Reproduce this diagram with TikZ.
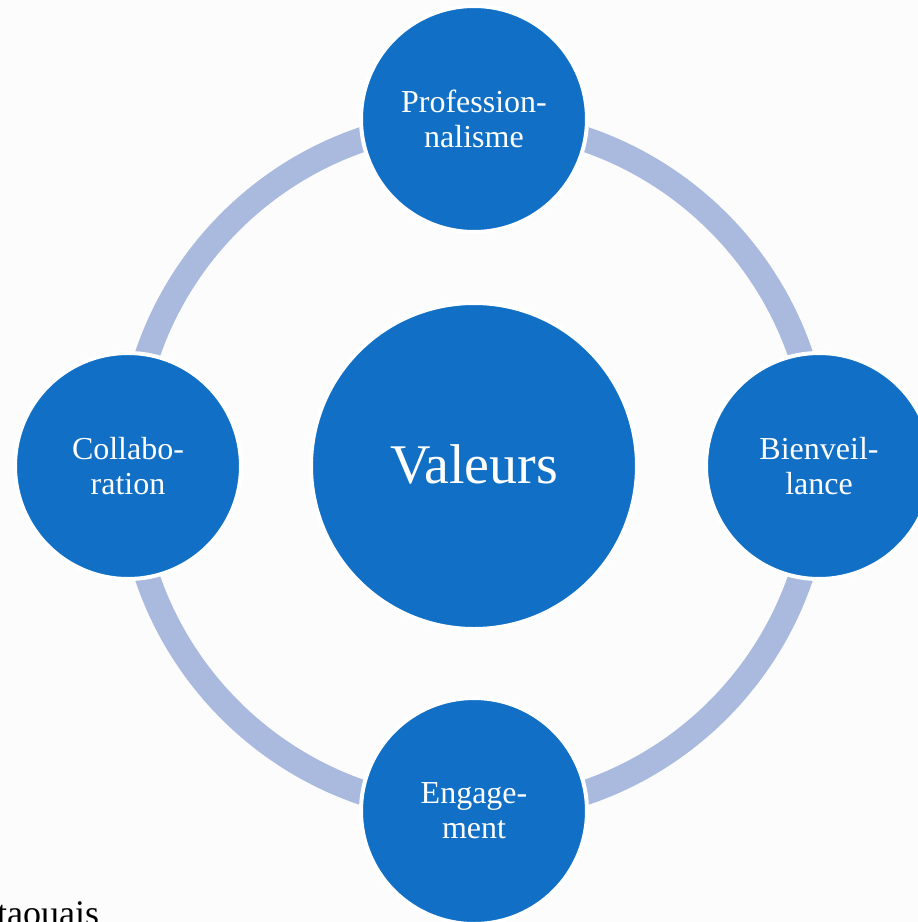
\documentclass[tikz,border=0pt]{standalone}
\usepackage{fontspec}
\setmainfont{Liberation Serif}
\definecolor{nodeblue}{HTML}{1170C6}
\definecolor{ringblue}{HTML}{AABADF}
\definecolor{bgcol}{HTML}{FCFCFC}
\begin{document}
\begin{tikzpicture}[x=1pt,y=-1pt,
  small/.style={circle,fill=nodeblue,draw=white,line width=4pt,minimum size=226pt,inner sep=0pt,
    text=white,align=center,font=\fontsize{32}{35}\selectfont},
  big/.style={circle,fill=nodeblue,draw=white,line width=4pt,minimum size=326pt,inner sep=0pt,
    text=white,font=\fontsize{56}{60}\selectfont},
  ring/.style={draw=ringblue,line width=25pt}]
\useasboundingbox (0,0) rectangle (918,922);
\clip (0,0) rectangle (918,922);
\fill[bgcol] (0,0) rectangle (918,922);
\coordinate (c) at (474,466);
\draw[ring] (c) circle[radius=345];
\node[big] (v) at (c) {\raisebox{3pt}{Valeurs}};
\node[small] (p) at (474,119) {Profession-\\nalisme};
\node[small] (b) at (819,466) {Bienveil-\\lance};
\node[small] (e) at (474,811) {Engage-\\ment};
\node[small] (col) at (128,466) {Collabo-\\ration};
\node[anchor=base west,inner sep=0pt,font=\fontsize{36}{40}\selectfont,text=black] (t) at (-3,925) {taouais};
\end{tikzpicture}
\end{document}
